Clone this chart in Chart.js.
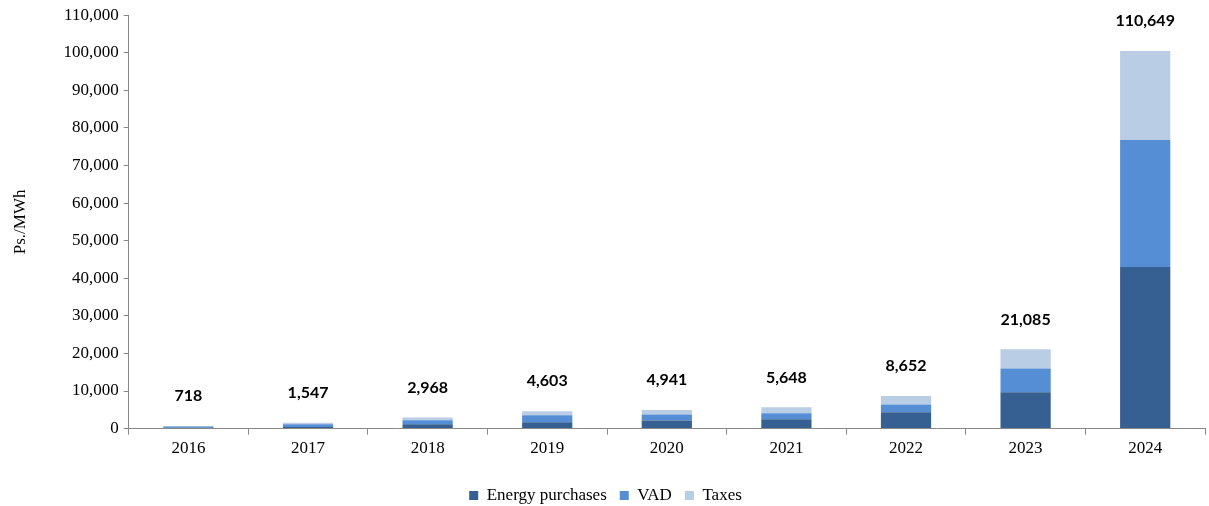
<!DOCTYPE html>
<html>
<head>
<meta charset="utf-8">
<script src="https://cdn.jsdelivr.net/npm/chart.js@4"></script>
<style>
body{margin:0;background:#fff;}
#wrap{width:1209px;height:506px;position:relative;}
</style>
</head>
<body>
<div id="wrap"><canvas id="cv"></canvas></div>
<script>
var years = ['2016','2017','2018','2019','2020','2021','2022','2023','2024'];
var energy = [200, 400, 1150, 1700, 2150, 2500, 4350, 9700, 43000];
var vad = [350, 750, 1050, 1850, 1600, 1600, 2050, 6300, 33800];
var taxes = [170, 400, 770, 1050, 1190, 1550, 2250, 5085, 23700];
var totals = ['718','1,547','2,968','4,603','4,941','5,648','8,652','21,085','110,649'];

var serif = "'Liberation Serif', 'Times New Roman', serif";

// total labels above each stack
var topLabels = {
  id: 'topLabels',
  afterDatasetsDraw: function(chart){
    var c = chart.ctx;
    var last = chart.getDatasetMeta(chart.data.datasets.length - 1);
    c.save();
    c.font = "bold 16px Lato, 'Open Sans', sans-serif";
    c.fillStyle = '#000';
    c.textAlign = 'center';
    c.textBaseline = 'middle';
    last.data.forEach(function(el, i){
      c.fillText(totals[i], el.x, el.y - 30);
    });
    c.restore();
  }
};

new Chart(document.getElementById('cv').getContext('2d'), {
  type: 'bar',
  data: {
    labels: years,
    datasets: [
      {label: 'Energy purchases', data: energy, backgroundColor: '#376092', barPercentage: 0.42, categoryPercentage: 1},
      {label: 'VAD', data: vad, backgroundColor: '#558ED5', barPercentage: 0.42, categoryPercentage: 1},
      {label: 'Taxes', data: taxes, backgroundColor: '#B9CDE5', barPercentage: 0.42, categoryPercentage: 1}
    ]
  },
  options: {
    responsive: true,
    maintainAspectRatio: false,
    animation: false,
    layout: {padding: {top: 10, left: 6, right: 4, bottom: -8}},
    plugins: {
      legend: {
        position: 'bottom',
        labels: {boxWidth: 9, boxHeight: 9, color: '#000', font: {family: serif, size: 17}, padding: 13}
      },
      tooltip: {enabled: false}
    },
    scales: {
      x: {
        stacked: true,
        grid: {drawOnChartArea: false, drawTicks: true, tickLength: 6, color: '#888', offset: true},
        border: {color: '#888'},
        ticks: {color: '#000', font: {family: serif, size: 17}, padding: 4},
        afterFit: function(s){ s.height += 11; }
      },
      y: {
        stacked: true,
        min: 0,
        max: 110000,
        grid: {drawOnChartArea: false, drawTicks: true, tickLength: 5, color: '#888'},
        border: {color: '#888'},
        ticks: {
          stepSize: 10000,
          color: '#000',
          font: {family: serif, size: 17},
          padding: 5,
          callback: function(v){ return v.toLocaleString('en-US'); }
        },
        title: {display: true, text: 'Ps./MWh', color: '#000', font: {family: serif, size: 17}, padding: {bottom: 28}}
      }
    }
  },
  plugins: [topLabels]
});
</script>
</body>
</html>
